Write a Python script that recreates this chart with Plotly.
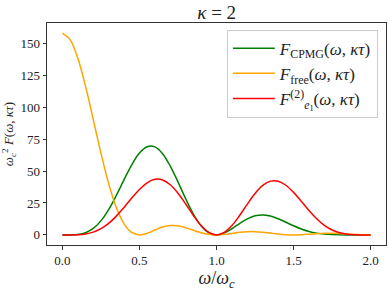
import plotly.graph_objects as go

# omega / omega_c sample points
omega = [round(0.05 * k, 2) for k in range(41)]

# F_CPMG(omega, kappa tau)
f_cpmg = [0.0, 0.024, 0.366, 1.741, 5.041, 10.98, 19.77, 30.91, 43.19, 54.85,
          64.0, 69.00, 68.88, 63.56, 53.88, 41.45, 28.27, 16.32, 7.180, 1.714,
          0.0, 1.403, 4.807, 8.917, 12.56, 14.92, 15.62, 14.73, 12.65, 9.928,
          7.111, 4.623, 2.699, 1.391, 0.616, 0.224, 0.062, 0.011, 0.001, 0.0, 0.0]

# F_free(omega, kappa tau)
f_free = [157.91, 152.79, 138.20, 116.36, 90.45, 64.0, 40.20, 21.37, 8.637, 1.886,
          0.0, 1.263, 3.839, 6.197, 7.384, 7.111, 5.653, 3.624, 1.706, 0.423,
          0.0, 0.346, 1.142, 1.980, 2.513, 2.56, 2.141, 1.437, 0.705, 0.182,
          0.0, 0.159, 0.540, 0.962, 1.252, 1.306, 1.117, 0.765, 0.383, 0.100, 0.0]

# F_e1^(2)(omega, kappa tau)
f_e1 = [0.0, 0.010, 0.150, 0.727, 2.155, 4.836, 9.022, 14.70, 21.52, 28.79,
        35.56, 40.77, 43.46, 43.01, 39.26, 32.65, 24.17, 15.20, 7.315, 1.918,
        0.0, 1.918, 7.311, 15.18, 24.07, 32.40, 38.73, 42.07, 42.04, 38.86,
        33.28, 26.34, 19.15, 12.65, 7.464, 3.820, 1.614, 0.512, 0.099, 0.006, 0.0]

x_ticks = [0.0, 0.5, 1.0, 1.5, 2.0]
y_ticks = [0, 25, 50, 75, 100, 125, 150]

FONT = "Liberation Serif"

fig = go.Figure()
fig.add_trace(go.Scatter(x=omega, y=f_cpmg, mode="lines", line=dict(color="#008000", width=1.5, shape="spline", smoothing=1.0),
                         name="<i>F</i><sub>CPMG</sub>(<i>ω</i>, <i>κτ</i>)"))
fig.add_trace(go.Scatter(x=omega, y=f_free, mode="lines", line=dict(color="#FFA500", width=1.5, shape="spline", smoothing=1.0),
                         name="<i>F</i><sub>free</sub>(<i>ω</i>, <i>κτ</i>)"))
fig.add_trace(go.Scatter(x=omega, y=f_e1, mode="lines", line=dict(color="#FF0000", width=1.5, shape="spline", smoothing=1.0),
                         name="<i>F</i><sup>(2)</sup><sub><i>e</i><sub>1</sub></sub>(<i>ω</i>, <i>κτ</i>)"))

axis_common = dict(showline=True, linecolor="#333333", linewidth=1, mirror=True,
                   ticks="outside", ticklen=3.5, tickcolor="#333333", tickwidth=1,
                   showgrid=False, zeroline=False, automargin=False,
                   tickfont=dict(family=FONT, size=13, color="#222222"))

fig.update_xaxes(range=[-0.1, 2.1], tickvals=x_ticks, tickformat=".1f",
                 title=dict(text="<i>ω</i>/<i>ω</i><sub><i>c</i></sub>", font=dict(family=FONT, size=18, color="#222222"), standoff=2),
                 **axis_common)
fig.update_yaxes(range=[-7.9, 165.8], tickvals=y_ticks,
                 title=dict(text="<i>ω</i><sub><i>c</i></sub><sup>2</sup> <i>F</i>(<i>ω</i>, <i>κτ</i>)", font=dict(family=FONT, size=13, color="#222222"), standoff=4),
                 **axis_common)

fig.update_layout(
    width=389, height=292,
    margin=dict(l=47, r=3, t=23, b=47, autoexpand=False),
    paper_bgcolor="white", plot_bgcolor="white",
    title=dict(text="<i>κ</i> = 2", x=0.557, xanchor="center", y=0.98, yanchor="top",
               font=dict(family=FONT, size=19, color="#222222")),
    legend=dict(x=0.976, xanchor="right", y=0.97, yanchor="top",
                bgcolor="rgba(255,255,255,0.8)", bordercolor="#cccccc", borderwidth=1,
                font=dict(family=FONT, size=17, color="#222222"),
                tracegroupgap=0, itemwidth=42),
    showlegend=True,
)

fig.write_html("out.html", config={"displayModeBar": False},
               post_script="document.body.style.margin='0';document.body.style.overflow='hidden';")
